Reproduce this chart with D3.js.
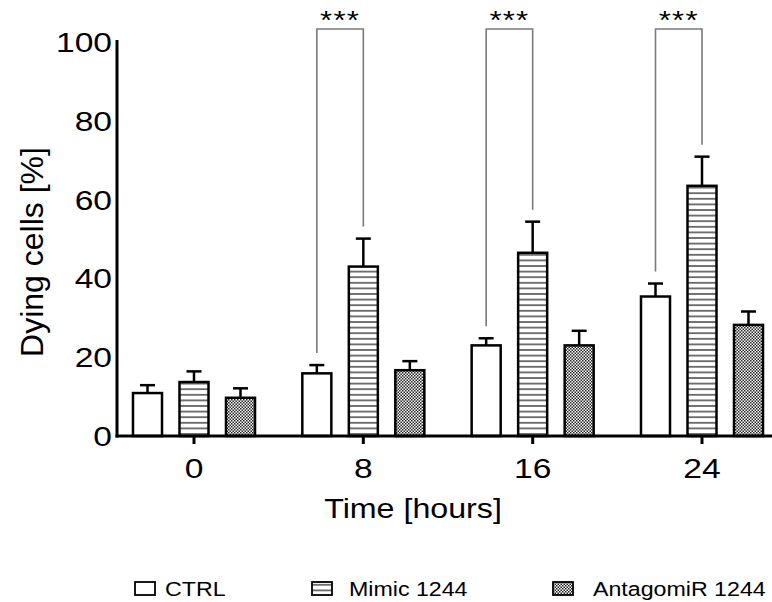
<!DOCTYPE html>
<html>
<head>
<meta charset="utf-8">
<script src="https://cdn.jsdelivr.net/npm/d3@7"></script>
<style>
  html, body { margin: 0; padding: 0; background: #fff; }
  svg { display: block; font-family: "Liberation Sans", Arial, sans-serif; }
</style>
</head>
<body>
<svg id="chart" width="772" height="602"></svg>
<script>
// ---- data ----
const timePoints = ["0", "8", "16", "24"];
const seriesNames = ["CTRL", "Mimic 1244", "AntagomiR 1244"];
const ctrlMean = [10.9, 15.9, 23.0, 35.4];
const ctrlErr = [2.0, 2.1, 1.8, 3.3];
const mimicMean = [13.7, 43.0, 46.5, 63.5];
const mimicErr = [2.7, 7.1, 7.9, 7.4];
const antagMean = [9.7, 16.7, 23.0, 28.2];
const antagErr = [2.4, 2.3, 3.7, 3.4];
const yTicks = [0, 20, 40, 60, 80, 100];
const sigGroups = ["8", "16", "24"];
const sigLabel = "***";
const xTitle = "Time [hours]";
const yTitle = "Dying cells [%]";

const means = [ctrlMean, mimicMean, antagMean];
const errs = [ctrlErr, mimicErr, antagErr];
const rows = [];
timePoints.forEach((t, i) => {
  seriesNames.forEach((s, j) => {
    rows.push({ time: t, series: s, si: j, mean: means[j][i], err: errs[j][i] });
  });
});

const svg = d3.select("#chart");
const STRETCH = 1.2;

// patterns
const defs = svg.append("defs");
const pH = defs.append("pattern").attr("id", "hlines")
  .attr("patternUnits", "userSpaceOnUse").attr("width", 8).attr("height", 5.6);
pH.append("rect").attr("width", 8).attr("height", 5.6).attr("fill", "#fff");
pH.append("line").attr("x1", 0).attr("x2", 8).attr("y1", 2.8).attr("y2", 2.8)
  .attr("stroke", "#555").attr("stroke-width", 1.6);
const pC = defs.append("pattern").attr("id", "checks")
  .attr("patternUnits", "userSpaceOnUse").attr("width", 3).attr("height", 3);
pC.append("rect").attr("width", 3).attr("height", 3).attr("fill", "#fff");
pC.append("rect").attr("width", 1.5).attr("height", 1.5).attr("fill", "#222");
pC.append("rect").attr("x", 1.5).attr("y", 1.5).attr("width", 1.5).attr("height", 1.5).attr("fill", "#222");
const fills = ["#fff", "url(#hlines)", "url(#checks)"];

// scales
const x = d3.scalePoint().domain(timePoints).range([194, 702]).padding(0);
const xs = d3.scaleBand().domain(seriesNames).range([-69.75, 69.75])
  .paddingInner(0.376).paddingOuter(0.188);
const y = d3.scaleLinear().domain([0, 100]).range([436, 42]);

const axisX0 = 117, axisX1 = 772;

// bars
const g = svg.append("g");
const bar = g.selectAll("g.bar").data(rows).join("g").attr("class", "bar");
// error bars (upper only)
bar.append("line")
  .attr("x1", d => x(d.time) + xs(d.series) + xs.bandwidth() / 2)
  .attr("x2", d => x(d.time) + xs(d.series) + xs.bandwidth() / 2)
  .attr("y1", d => y(d.mean))
  .attr("y2", d => y(d.mean + d.err))
  .attr("stroke", "#000").attr("stroke-width", 2.5);
bar.append("line")
  .attr("x1", d => x(d.time) + xs(d.series) + xs.bandwidth() / 2 - 7.5)
  .attr("x2", d => x(d.time) + xs(d.series) + xs.bandwidth() / 2 + 7.5)
  .attr("y1", d => y(d.mean + d.err))
  .attr("y2", d => y(d.mean + d.err))
  .attr("stroke", "#000").attr("stroke-width", 2.5);
bar.append("rect")
  .attr("x", d => x(d.time) + xs(d.series))
  .attr("y", d => y(d.mean))
  .attr("width", xs.bandwidth())
  .attr("height", d => y(0) - y(d.mean))
  .attr("fill", d => fills[d.si])
  .attr("stroke", "#000").attr("stroke-width", 2.5);

// significance brackets (CTRL vs Mimic)
const topY = 29, gap = 12;
sigGroups.forEach(t => {
  const i = timePoints.indexOf(t);
  const xl = x(t) + xs("CTRL") + xs.bandwidth() / 2;
  const xr = x(t) + xs("Mimic 1244") + xs.bandwidth() / 2;
  const yl = y(ctrlMean[i] + ctrlErr[i]) - gap;
  const yr = y(mimicMean[i] + mimicErr[i]) - gap;
  svg.append("path")
    .attr("d", `M${xl},${yl}V${topY}H${xr}V${yr}`)
    .attr("fill", "none").attr("stroke", "#7a7a7a").attr("stroke-width", 1.6);
  svg.append("text")
    .attr("transform", `translate(${(xl + xr) / 2},${29}) scale(${STRETCH},1)`)
    .attr("text-anchor", "middle")
    .attr("font-size", 26)
    .attr("letter-spacing", 1)
    .text(sigLabel);
});

// axes
svg.append("line").attr("x1", axisX0).attr("x2", axisX0)
  .attr("y1", y(100) - 2).attr("y2", y(0) + 1.5)
  .attr("stroke", "#000").attr("stroke-width", 3);
svg.append("line").attr("x1", axisX0 - 1.5).attr("x2", axisX1)
  .attr("y1", y(0)).attr("y2", y(0))
  .attr("stroke", "#000").attr("stroke-width", 3);

// x ticks
timePoints.forEach(t => {
  svg.append("line").attr("x1", x(t)).attr("x2", x(t))
    .attr("y1", y(0)).attr("y2", y(0) + 8)
    .attr("stroke", "#000").attr("stroke-width", 3);
  svg.append("text")
    .attr("transform", `translate(${x(t)},${y(0) + 42}) scale(${STRETCH},1)`)
    .attr("text-anchor", "middle").attr("font-size", 28)
    .text(t);
});

// y tick labels
yTicks.forEach(v => {
  svg.append("text")
    .attr("transform", `translate(${axisX0 - 5},${y(v) + 10}) scale(${STRETCH},1)`)
    .attr("text-anchor", "end").attr("font-size", 28)
    .text(v);
});

// axis titles
svg.append("text")
  .attr("transform", `translate(${413},${518}) scale(1.15,1)`)
  .attr("text-anchor", "middle").attr("font-size", 28)
  .text(xTitle);
svg.append("text")
  .attr("transform", `translate(${43},${252}) rotate(-90)`)
  .attr("text-anchor", "middle").attr("font-size", 32)
  .text(yTitle);

// legend
const legendX = [135, 312, 553];
const legendTextOffset = [30, 37, 40];
seriesNames.forEach((s, j) => {
  const lg = svg.append("g").attr("transform", `translate(${legendX[j]},${582})`);
  lg.append("rect").attr("width", 20).attr("height", 13)
    .attr("fill", fills[j]).attr("stroke", "#000").attr("stroke-width", 1.8);
  lg.append("text")
    .attr("transform", `translate(${legendTextOffset[j]},${14}) scale(1.16,1)`)
    .attr("font-size", 20)
    .text(s);
});
</script>
</body>
</html>
